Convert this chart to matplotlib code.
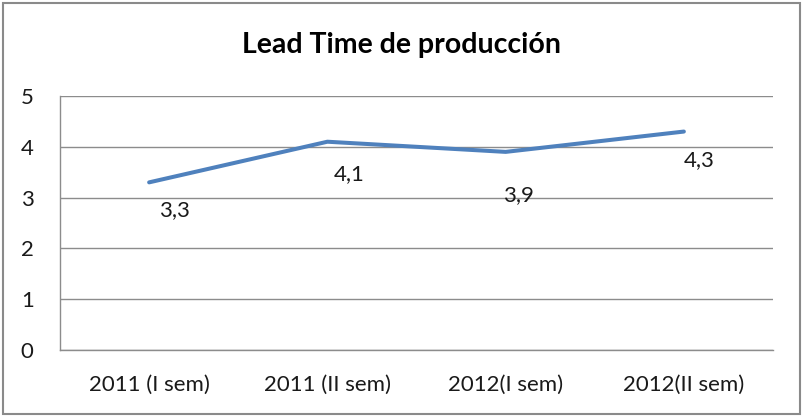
import matplotlib
matplotlib.use("Agg")
import matplotlib.pyplot as plt
from matplotlib.patches import Rectangle

categories = ["2011 (I sem)", "2011 (II sem)", "2012(I sem)", "2012(II sem)"]
values = [3.3, 4.1, 3.9, 4.3]
value_labels = ["3,3", "4,1", "3,9", "4,3"]
label_offsets_px = [(25, -28), (22, -32), (13, -43), (15, -29)]
yticks = [0, 1, 2, 3, 4, 5]
title = "Lead Time de producción"

plt.rcParams['font.family'] = ['Lato', 'DejaVu Sans']

W, H = 802, 416
dpi = 100
fig = plt.figure(figsize=(W / dpi, H / dpi), dpi=dpi)
ax = fig.add_axes([60 / W, 1 - 350 / H, (773 - 60) / W, (350 - 96) / H])

x = list(range(len(categories)))
ax.plot(x, values, color="#4F81BD", lw=2.9, solid_capstyle="round", solid_joinstyle="round", zorder=3)

px2pt = 72 / dpi
for xi, v, lab, (dx, dy) in zip(x, values, value_labels, label_offsets_px):
    ax.annotate(lab, (xi, v), xytext=(dx * px2pt, dy * px2pt), textcoords="offset points",
                ha="center", va="center", fontsize=16, color="#1a1a1a", zorder=4)

ax.set_xlim(-0.5, len(categories) - 0.5)
ax.set_ylim(0, 5)
ax.set_yticks(yticks)
ax.set_yticklabels([str(t) for t in yticks])
ax.set_xticks(x)
ax.set_xticklabels(categories)
ax.tick_params(axis="both", length=0, labelsize=16, labelcolor="#1a1a1a")
ax.tick_params(axis="y", pad=19)
ax.tick_params(axis="x", pad=18)
ax.grid(axis="y", color="#8c8c8c", lw=1.0)
ax.set_axisbelow(True)
for s in ["top", "right"]:
    ax.spines[s].set_visible(False)
for s in ["left", "bottom"]:
    ax.spines[s].set_color("#8c8c8c")
    ax.spines[s].set_linewidth(1.0)

fig.text(401 / W, 1 - 45 / H, title, ha="center", va="center", fontsize=20.5, fontweight="bold", color="black")

fig.patches.append(Rectangle((2.5 / W, 2.5 / H), (799.5 - 2.5) / W, (413.5 - 2.5) / H,
                             transform=fig.transFigure, fill=False, edgecolor="#8a8a8a", lw=1.5))

fig.savefig("out.png", dpi=dpi)
